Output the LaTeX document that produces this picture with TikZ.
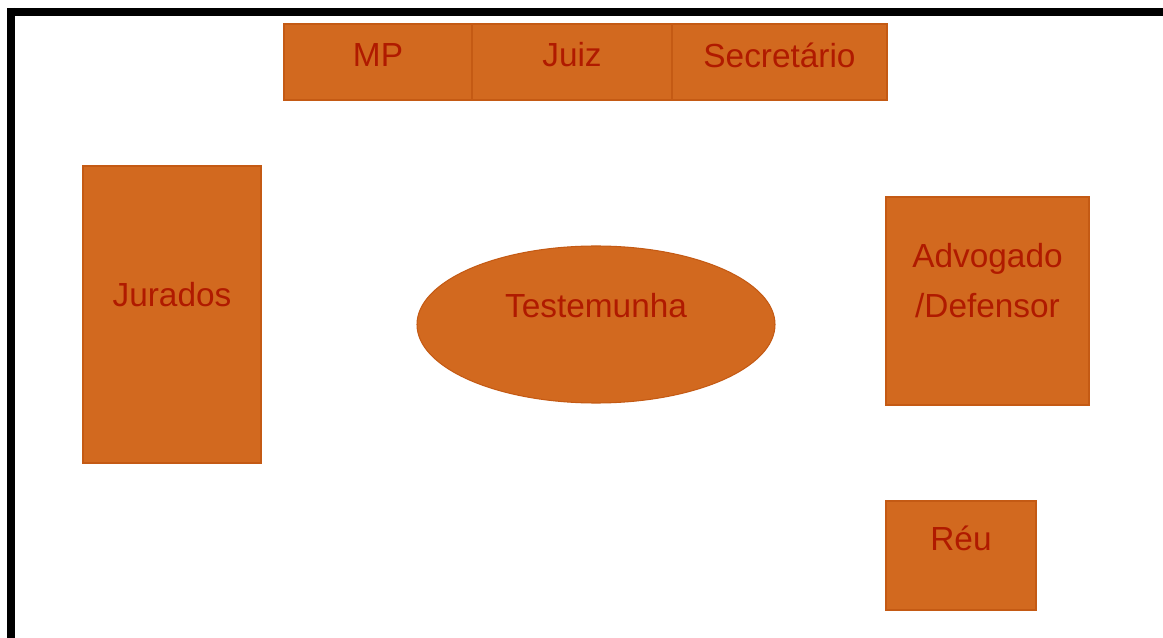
\documentclass[tikz,border=0pt]{standalone}
\usepackage{fontspec}
\setmainfont{Liberation Sans}
\usetikzlibrary{shapes.geometric}
\definecolor{laranja}{HTML}{D2691F}
\definecolor{bordo}{HTML}{C45A14}
\definecolor{texto}{HTML}{B01A00}
\tikzset{
  caixa/.style={draw=bordo,fill=laranja,line width=0.6pt,inner sep=0pt},
  rotulo/.style={text=texto,font=\fontsize{19}{28}\selectfont,align=center},
}
\begin{document}
\begin{tikzpicture}[x=0.02cm,y=-0.02cm]
\useasboundingbox (0,0) rectangle (1163,638);

\draw[line width=4.6pt] (7,12) -- (1163,12);%bord du haut
\draw[line width=4.6pt] (11,8) -- (11,638);%bord de gauche

%la table du haut
\node[caixa,minimum width=188*0.02cm,minimum height=76*0.02cm,label={[rotulo,yshift=0.14cm]center:MP}] (mp) at (378,62){};
\node[caixa,minimum width=200*0.02cm,minimum height=76*0.02cm,label={[rotulo,yshift=0.14cm]center:Juiz}] (juiz) at (572,62){};
\node[caixa,minimum width=215*0.02cm,minimum height=76*0.02cm,label={[rotulo,yshift=0.14cm]center:Secretário}] (secretario) at (779.5,62){};

\node[caixa,minimum width=178*0.02cm,minimum height=297*0.02cm,label={[rotulo,yshift=0.39cm]center:Jurados}] (jurados) at (172,314.5){};%les jurés

\node[caixa,ellipse,minimum width=358*0.02cm,minimum height=157*0.02cm,label={[rotulo,yshift=0.38cm]center:Testemunha}] (testemunha) at (596,324.5){};%le témoin

\node[caixa,minimum width=203*0.02cm,minimum height=208*0.02cm,label={[rotulo,yshift=0.41cm]center:Advogado\\/Defensor}] (advogado) at (987.5,301){};

\node[caixa,minimum width=150*0.02cm,minimum height=109*0.02cm,label={[rotulo,yshift=0.35cm]center:Réu}] (reu) at (961,555.5){};%le prévenu

\end{tikzpicture}
\end{document}
